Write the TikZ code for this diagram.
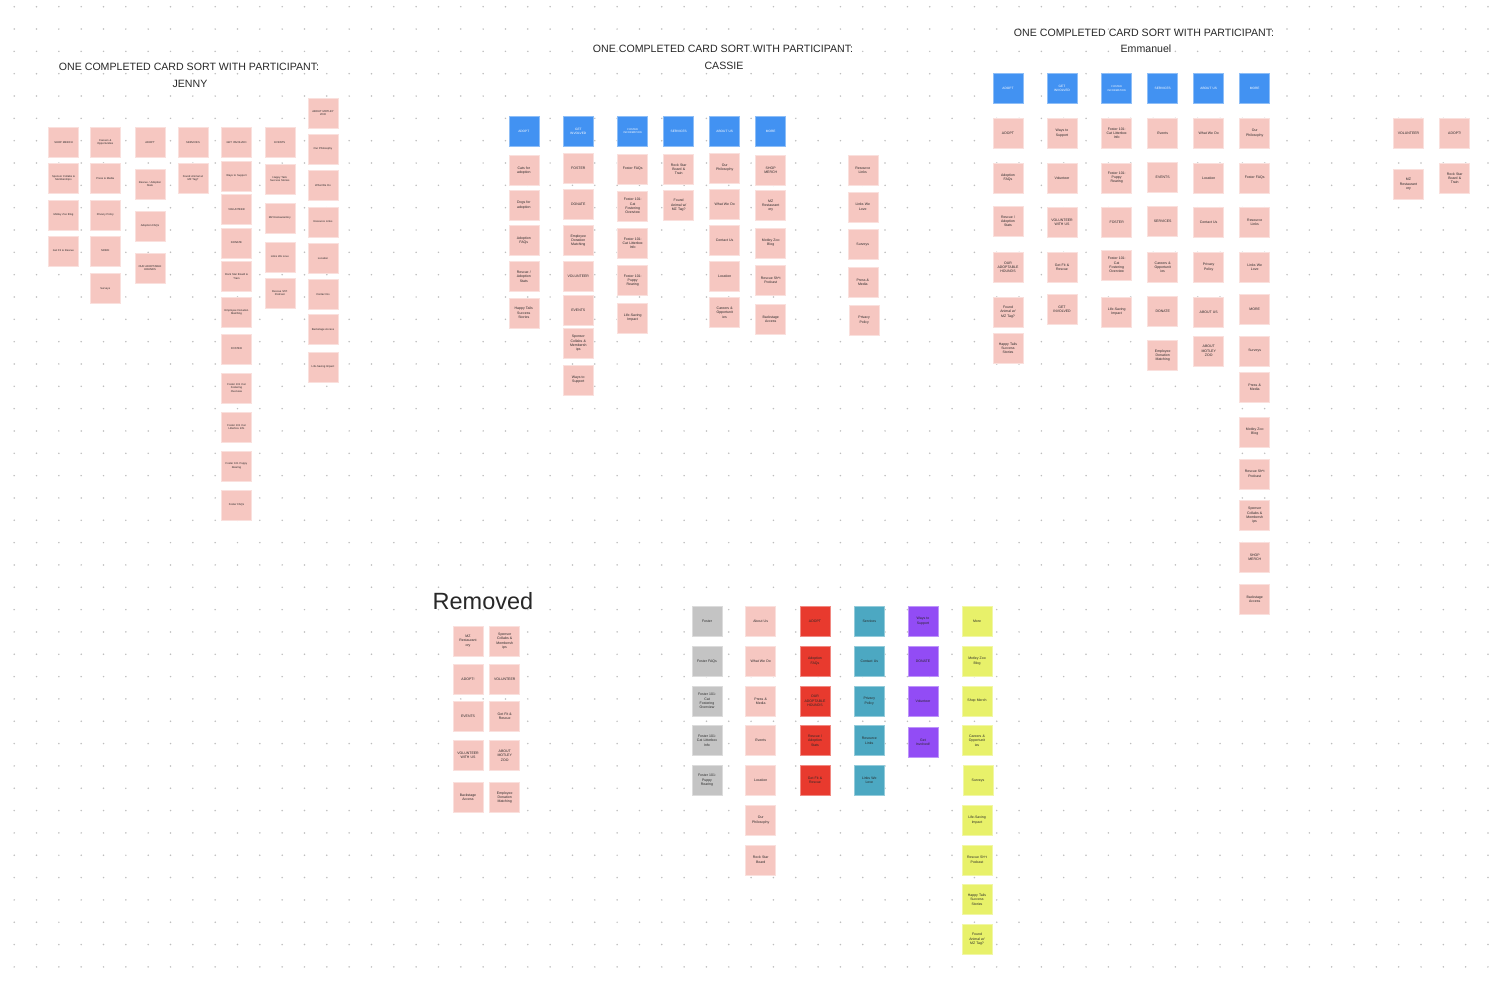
\documentclass[tikz,border=0pt]{standalone}
\usepackage{fontspec}
\setmainfont{Liberation Sans}
\definecolor{pk}{RGB}{246,199,193}
\definecolor{bl}{RGB}{66,146,242}
\definecolor{rd}{RGB}{232,58,46}
\definecolor{gy}{RGB}{196,196,196}
\definecolor{tl}{RGB}{76,168,194}
\definecolor{pu}{RGB}{146,76,245}
\definecolor{ye}{RGB}{232,241,106}
\definecolor{dotc}{RGB}{190,190,190}
\definecolor{ink}{RGB}{40,40,40}
\tikzset{
 card/.style={minimum width=30pt, minimum height=30pt, inner sep=0pt, text width=28pt, align=center,
   font=\fontsize{3.5}{4.3}\selectfont, text=ink, line width=0.5pt},
 pcard/.style={card, fill=pk, draw=pk!55!white},
 jcard/.style={pcard, font=\fontsize{2.7}{3.4}\selectfont},
 hcard/.style={card, fill=bl, draw=bl!60!white, text=white, font=\fontsize{3.2}{3.9}\selectfont},
 gcard/.style={card, fill=gy, draw=gy!60!white},
 rcard/.style={card, fill=rd, draw=rd!60!white},
 tcard/.style={card, fill=tl, draw=tl!60!white},
 ucard/.style={card, fill=pu, draw=pu!60!white},
 ycard/.style={card, fill=ye, draw=ye!60!white},
 ttl/.style={font=\fontsize{10.6}{12.8}\selectfont, text=ink, inner sep=0pt, align=center}
}
\begin{document}
\begin{tikzpicture}[x=1pt,y=-1pt]
\useasboundingbox (0,0) rectangle (1508,983);
\fill[white] (0,0) rectangle (1508,983);
\foreach \i in {0,...,66} \foreach \j in {0,...,43} \fill[dotc] (14.2+22.33*\i,6.7+22.33*\j) circle (0.85);

% ---------------- JENNY ----------------
\node[ttl] (tj1) at (189,67) {ONE COMPLETED CARD SORT WITH PARTICIPANT:};
\node[ttl] (tj2) at (190,84) {JENNY};
\node[jcard] (j11) at (63.5,142.5) {SHOP MERCH};
\node[jcard] (j12) at (63.5,178.5) {Sponsor Collabs \&\\Memberships};
\node[jcard] (j13) at (63.5,215) {Motley Zoo Blog};
\node[jcard] (j14) at (63.5,251) {Get Fit \& Rescue};
\node[jcard] (j21) at (105.3,142.5) {Careers \&\\Opportunities};
\node[jcard] (j22) at (105.3,178.5) {Press \& Media};
\node[jcard] (j23) at (105.3,215) {Privacy Policy};
\node[jcard] (j24) at (105.3,251) {MORE};
\node[jcard] (j25) at (105.3,288.5) {Surveys};
\node[jcard] (j31) at (150,142.5) {ADOPT};
\node[jcard] (j32) at (150,184.2) {Rescue / Adoption\\Stats};
\node[jcard] (j33) at (150,226.2) {Adoption FAQs};
\node[jcard] (j34) at (150,268) {OUR ADOPTABLE\\HOUNDS};
\node[jcard] (j41) at (193,142.5) {SERVICES};
\node[jcard] (j42) at (193,178.5) {Found Animal w/\\MZ Tag?};
\node[jcard] (j51) at (236.5,142.5) {GET INVOLVED};
\node[jcard] (j52) at (236.5,175.8) {Ways to Support};
\node[jcard] (j53) at (236.5,209.5) {VOLUNTEER};
\node[jcard] (j54) at (236.5,242.8) {DONATE};
\node[jcard] (j55) at (236.5,276.5) {Rock Star Board \&\\Train};
\node[jcard] (j56) at (236.5,312.5) {Employee Donation\\Matching};
\node[jcard] (j57) at (236.5,348.8) {FOSTER};
\node[jcard] (j58) at (236.5,387.8) {Foster 101 Cat\\Fostering\\Overview};
\node[jcard] (j59) at (236.5,426.8) {Foster 101 Cat\\Litterbox Info};
\node[jcard] (j5a) at (236.5,465.8) {Foster 101 Puppy\\Rearing};
\node[jcard] (j5b) at (236.5,505.2) {Foster FAQs};
\node[jcard] (j61) at (279.8,142.5) {EVENTS};
\node[jcard] (j62) at (279.8,178.8) {Happy Tails\\Success Stories};
\node[jcard] (j63) at (279.8,217.8) {MZ Restaurantory};
\node[jcard] (j64) at (279.8,256.8) {Links We Love};
\node[jcard] (j65) at (279.8,292.8) {Rescue Sh*t\\Podcast};
\node[jcard] (j71) at (323,112.8) {ABOUT MOTLEY\\ZOO};
\node[jcard] (j72) at (323,149.2) {Our Philosophy};
\node[jcard] (j73) at (323,185.5) {What We Do};
\node[jcard] (j74) at (323,221.8) {Resource Links};
\node[jcard] (j75) at (323,258.2) {Location};
\node[jcard] (j76) at (323,294.5) {Contact Us};
\node[jcard] (j77) at (323,329.3) {Backstage Access};
\node[jcard] (j78) at (323,367) {Life-Saving Impact};

% ---------------- CASSIE ----------------
\node[ttl] (tc1) at (723,49) {ONE COMPLETED CARD SORT WITH PARTICIPANT:};
\node[ttl] (tc2) at (724,66) {CASSIE};
\node[hcard] (ca0) at (523.8,131.3) {ADOPT};
\node[pcard] (ca1) at (523.8,170.3) {Cats for\\adoption};
\node[pcard] (ca2) at (523.8,205.2) {Dogs for\\adoption};
\node[pcard] (ca3) at (523.8,240.5) {Adoption\\FAQs};
\node[pcard] (ca4) at (523.8,276.5) {Rescue /\\Adoption\\Stats};
\node[pcard] (ca5) at (523.8,312.8) {Happy Tails\\Success\\Stories};
\node[hcard] (cb0) at (578.3,131.3) {GET\\INVOLVED};
\node[pcard] (cb1) at (578.3,167.8) {FOSTER};
\node[pcard] (cb2) at (578.3,204.2) {DONATE};
\node[pcard] (cb3) at (578.3,240.5) {Employee\\Donation\\Matching};
\node[pcard] (cb4) at (578.3,276.5) {VOLUNTEER};
\node[pcard] (cb5) at (578.3,310.2) {EVENTS};
\node[pcard] (cb6) at (578.3,343.5) {Sponsor\\Collabs \&\\Membersh\\ips};
\node[pcard] (cb7) at (578.3,379.8) {Ways to\\Support};
\node[hcard,font=\fontsize{2.6}{3.2}\selectfont] (cc0) at (632.7,131.3) {FOSTER\\INFORMATION};
\node[pcard] (cc1) at (632.7,169) {Foster FAQs};
\node[pcard] (cc2) at (632.7,206.2) {Foster 101:\\Cat\\Fostering\\Overview};
\node[pcard] (cc3) at (632.7,243.2) {Foster 101:\\Cat Litterbox\\Info};
\node[pcard] (cc4) at (632.7,280.5) {Foster 101:\\Puppy\\Rearing};
\node[pcard] (cc5) at (632.7,317.8) {Life-Saving\\Impact};
\node[hcard] (cd0) at (678.7,131.3) {SERVICES};
\node[pcard] (cd1) at (678.7,169.3) {Rock Star\\Board \&\\Train};
\node[pcard] (cd2) at (678.7,205.2) {Found\\Animal w/\\MZ Tag?};
\node[hcard] (ce0) at (724.7,131.3) {ABOUT US};
\node[pcard] (ce1) at (724.7,167.8) {Our\\Philosophy};
\node[pcard] (ce2) at (724.7,204.2) {What We Do};
\node[pcard] (ce3) at (724.7,240.5) {Contact Us};
\node[pcard] (ce4) at (724.7,276.5) {Location};
\node[pcard] (ce5) at (724.7,312.7) {Careers \&\\Opportunit\\ies};
\node[hcard] (cf0) at (770.7,131.3) {MORE};
\node[pcard] (cf1) at (770.7,170.5) {SHOP\\MERCH};
\node[pcard] (cf2) at (770.7,205.5) {MZ\\Restaurant\\ory};
\node[pcard] (cf3) at (770.7,242.8) {Motley Zoo\\Blog};
\node[pcard] (cf4) at (770.7,280.5) {Rescue Sh*t\\Podcast};
\node[pcard] (cf5) at (770.7,319.5) {Backstage\\Access};
\node[pcard] (cg1) at (862.8,170.5) {Resource\\Links};
\node[pcard] (cg2) at (862.8,206.8) {Links We\\Love};
\node[pcard] (cg3) at (862.8,244.5) {Surveys};
\node[pcard] (cg4) at (862.8,282.2) {Press \&\\Media};
\node[pcard] (cg5) at (864.2,320.2) {Privacy\\Policy};

% ---------------- EMMANUEL ----------------
\node[ttl] (te1) at (1144,33) {ONE COMPLETED CARD SORT WITH PARTICIPANT:};
\node[ttl] (te2) at (1146,49) {Emmanuel};
\node[hcard] (e10) at (1008,88.7) {ADOPT};
\node[pcard] (e11) at (1008,133.2) {ADOPT};
\node[pcard] (e12) at (1008,177.8) {Adoption\\FAQs};
\node[pcard] (e13) at (1008,221.2) {Rescue /\\Adoption\\Stats};
\node[pcard] (e14) at (1008,267.2) {OUR\\ADOPTABLE\\HOUNDS};
\node[pcard] (e15) at (1008,311.8) {Found\\Animal w/\\MZ Tag?};
\node[pcard] (e16) at (1008,348.2) {Happy Tails\\Success\\Stories};
\node[hcard] (e20) at (1062,88.7) {GET\\INVOLVED};
\node[pcard] (e21) at (1062,133.2) {Ways to\\Support};
\node[pcard] (e22) at (1062,177.8) {Volunteer};
\node[pcard] (e23) at (1062,222.5) {VOLUNTEER\\WITH US};
\node[pcard] (e24) at (1062,267.2) {Get Fit \&\\Rescue};
\node[pcard] (e25) at (1062,309.2) {GET\\INVOLVED};
\node[hcard,font=\fontsize{2.6}{3.2}\selectfont] (e30) at (1116.7,88.7) {FOSTER\\INFORMATION};
\node[pcard] (e31) at (1116.7,133.2) {Foster 101:\\Cat Litterbox\\Info};
\node[pcard] (e32) at (1116.7,177.8) {Foster 101:\\Puppy\\Rearing};
\node[pcard] (e33) at (1116.7,222.5) {FOSTER};
\node[pcard] (e34) at (1116.7,265.2) {Foster 101:\\Cat\\Fostering\\Overview};
\node[pcard] (e35) at (1116.7,311.8) {Life-Saving\\Impact};
\node[hcard] (e40) at (1162.7,88.7) {SERVICES};
\node[pcard] (e41) at (1162.7,133.2) {Events};
\node[pcard] (e42) at (1162.7,177.2) {EVENTS};
\node[pcard] (e43) at (1162.7,221.2) {SERVICES};
\node[pcard] (e44) at (1162.7,267.2) {Careers \&\\Opportunit\\ies};
\node[pcard] (e45) at (1162.7,311.2) {DONATE};
\node[pcard] (e46) at (1162.7,355.5) {Employee\\Donation\\Matching};
\node[hcard] (e50) at (1208.7,88.7) {ABOUT US};
\node[pcard] (e51) at (1208.7,133.2) {What We Do};
\node[pcard] (e52) at (1208.7,177.8) {Location};
\node[pcard] (e53) at (1208.7,222.5) {Contact Us};
\node[pcard] (e54) at (1208.7,267.2) {Privacy\\Policy};
\node[pcard] (e55) at (1208.7,311.8) {ABOUT US};
\node[pcard] (e56) at (1208.7,350.8) {ABOUT\\MOTLEY\\ZOO};
\node[hcard] (e60) at (1254.7,88.7) {MORE};
\node[pcard] (e61) at (1254.7,133.2) {Our\\Philosophy};
\node[pcard] (e62) at (1254.7,177.8) {Foster FAQs};
\node[pcard] (e63) at (1254.7,222.5) {Resource\\Links};
\node[pcard] (e64) at (1254.7,267.2) {Links We\\Love};
\node[pcard] (e65) at (1254.7,309.2) {MORE};
\node[pcard] (e66) at (1254.7,350.8) {Surveys};
\node[pcard] (e67) at (1254.7,387.3) {Press \&\\Media};
\node[pcard] (e68) at (1254.7,431.8) {Motley Zoo\\Blog};
\node[pcard] (e69) at (1254.7,473.8) {Rescue Sh*t\\Podcast};
\node[pcard] (e6a) at (1254.7,515.5) {Sponsor\\Collabs \&\\Membersh\\ips};
\node[pcard] (e6b) at (1254.7,557.5) {SHOP\\MERCH};
\node[pcard] (e6c) at (1254.7,599.2) {Backstage\\Access};

% ---------------- FAR RIGHT ----------------
\node[pcard] (r1) at (1408.5,133.3) {VOLUNTEER};
\node[pcard] (r2) at (1454.7,133.3) {ADOPT!};
\node[pcard] (r3) at (1408.5,184.2) {MZ\\Restaurant\\ory};
\node[pcard] (r4) at (1454.7,178.2) {Rock Star\\Board \&\\Train};

% ---------------- REMOVED ----------------
\node[font=\fontsize{23.5}{28}\selectfont, text=ink, inner sep=0pt] (rem) at (483,601) {Removed};
\node[pcard] (m11) at (468,641) {MZ\\Restaurant\\ory};
\node[pcard] (m12) at (468,679) {ADOPT!};
\node[pcard] (m13) at (468,716) {EVENTS};
\node[pcard] (m14) at (468,755.5) {VOLUNTEER\\WITH US};
\node[pcard] (m15) at (468,797.5) {Backstage\\Access};
\node[pcard] (m21) at (504.7,641) {Sponsor\\Collabs \&\\Membersh\\ips};
\node[pcard] (m22) at (504.7,679) {VOLUNTEER};
\node[pcard] (m23) at (504.7,716) {Get Fit \&\\Rescue};
\node[pcard] (m24) at (504.7,755.5) {ABOUT\\MOTLEY\\ZOO};
\node[pcard] (m25) at (504.7,797.5) {Employee\\Donation\\Matching};

% ---------------- BOTTOM GROUPS ----------------
\node[gcard] (g1) at (707,621.3) {Foster};
\node[gcard] (g2) at (707,661.2) {Foster FAQs};
\node[gcard] (g3) at (707,701) {Foster 101:\\Cat\\Fostering\\Overview};
\node[gcard] (g4) at (707,740.7) {Foster 101:\\Cat Litterbox\\Info};
\node[gcard] (g5) at (707,780.2) {Foster 101:\\Puppy\\Rearing};
\node[pcard] (p1) at (760.7,621.3) {About Us};
\node[pcard] (p2) at (760.7,661.2) {What We Do};
\node[pcard] (p3) at (760.7,701) {Press \&\\Media};
\node[pcard] (p4) at (760.7,740.7) {Events};
\node[pcard] (p5) at (760.7,780.2) {Location};
\node[pcard] (p6) at (760.7,820) {Our\\Philosophy};
\node[pcard] (p7) at (760.7,859.8) {Rock Star\\Board};
\node[rcard] (d1) at (815,621.3) {ADOPT};
\node[rcard] (d2) at (815,661.2) {Adoption\\FAQs};
\node[rcard] (d3) at (815,701) {OUR\\ADOPTABLE\\HOUNDS};
\node[rcard] (d4) at (815,740.7) {Rescue /\\Adoption\\Stats};
\node[rcard] (d5) at (815,780.2) {Get Fit \&\\Rescue};
\node[tcard] (t1) at (869.3,621.3) {Services};
\node[tcard] (t2) at (869.3,661.2) {Contact Us};
\node[tcard] (t3) at (869.3,701) {Privacy\\Policy};
\node[tcard] (t4) at (869.3,740.7) {Resource\\Links};
\node[tcard] (t5) at (869.3,780.2) {Links We\\Love};
\node[ucard] (u1) at (923,621.3) {Ways to\\Support};
\node[ucard] (u2) at (923,661.2) {DONATE};
\node[ucard] (u3) at (923,701) {Volunteer};
\node[ucard] (u4) at (923,742.5) {Get\\Involved!};
\node[ycard] (y1) at (977,621.3) {More};
\node[ycard] (y2) at (977,661.2) {Motley Zoo\\Blog};
\node[ycard] (y3) at (977,701) {Shop Merch};
\node[ycard] (y4) at (977,740.7) {Careers \&\\Opportunit\\ies};
\node[ycard] (y5) at (978,780.2) {Surveys};
\node[ycard] (y6) at (977,820) {Life-Saving\\Impact};
\node[ycard] (y7) at (977,859.8) {Rescue Sh*t\\Podcast};
\node[ycard] (y8) at (977,899.5) {Happy Tails\\Success\\Stories};
\node[ycard] (y9) at (977,939.2) {Found\\Animal w/\\MZ Tag?};
\end{tikzpicture}
\end{document}
